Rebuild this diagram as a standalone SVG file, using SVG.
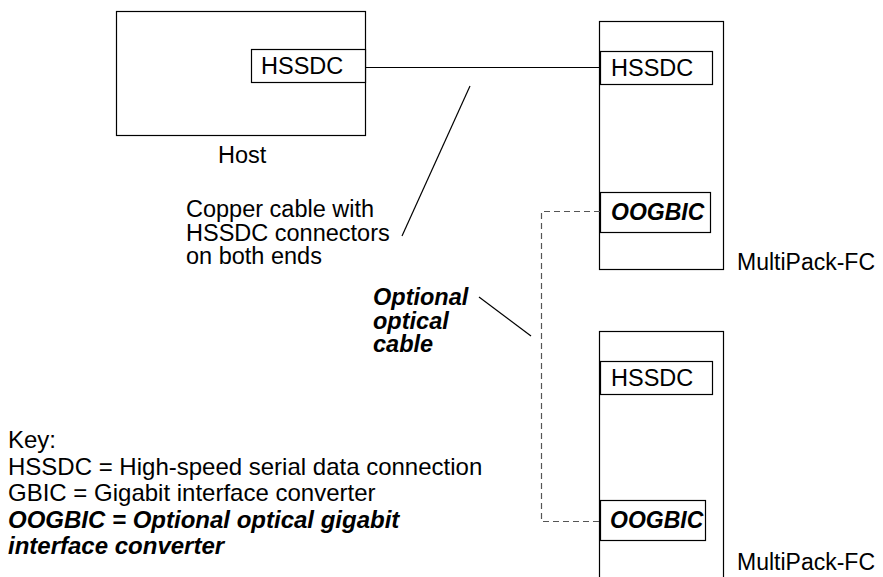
<svg xmlns="http://www.w3.org/2000/svg" width="883" height="577" viewBox="0 0 883 577">
<style>
.box{fill:#fff;stroke:#000;stroke-width:1.2}
.t{font-family:"Liberation Sans",Arial,sans-serif;font-size:23.5px;fill:#000}
.bi{font-weight:bold;font-style:italic}
.ln{stroke:#000;stroke-width:1.2;fill:none}
.dash{stroke:#555;stroke-width:1.2;fill:none;stroke-dasharray:6,4}
.mp{font-size:23px}
.og{font-size:23px}
.k{font-size:24px}
</style>
<rect width="883" height="577" fill="#fff"/>
<g id="host">
<rect class="box" x="116.5" y="11.5" width="249" height="124"/>
<text class="t" x="218" y="163">Host</text>
</g>
<g id="host-hssdc">
<rect class="box" x="251.5" y="49.5" width="114" height="33"/>
<text class="t" x="261" y="74">HSSDC</text>
</g>
<g id="multipack1">
<rect class="box" x="599.5" y="21.5" width="124" height="248"/>
<text class="t mp" x="737" y="270">MultiPack-FC</text>
</g>
<g id="mp1-hssdc">
<rect class="box" x="600.5" y="51.5" width="112" height="33"/>
<text class="t" x="611" y="76">HSSDC</text>
</g>
<g id="mp1-oogbic">
<rect class="box" x="600.5" y="192.5" width="110" height="40"/>
<text class="t bi og" x="611" y="220">OOGBIC</text>
</g>
<g id="multipack2">
<rect class="box" x="599.5" y="331.5" width="124" height="260"/>
<text class="t mp" x="737" y="570">MultiPack-FC</text>
</g>
<g id="mp2-hssdc">
<rect class="box" x="600.5" y="361.5" width="112" height="33"/>
<text class="t" x="611" y="386">HSSDC</text>
</g>
<g id="mp2-oogbic">
<rect class="box" x="600.5" y="500.5" width="105" height="40"/>
<text class="t bi og" x="610" y="528">OOGBIC</text>
</g>
<g id="connectors">
<line class="ln" x1="366" y1="67.5" x2="600" y2="67.5"/>
<line class="ln" x1="470" y1="86" x2="402" y2="236"/>
<line class="ln" x1="479" y1="297" x2="531" y2="336"/>
<polyline class="dash" points="600,211.5 541.5,211.5 541.5,521.5 600,521.5"/>
</g>
<g id="copper-label">
<text class="t" x="186" y="217"><tspan x="186" y="217">Copper cable with</tspan><tspan x="186" y="241">HSSDC connectors</tspan><tspan x="186" y="264">on both ends</tspan></text>
</g>
<g id="optical-label">
<text class="t bi" x="373" y="305"><tspan x="373" y="305">Optional</tspan><tspan x="373" y="329">optical</tspan><tspan x="373" y="352">cable</tspan></text>
</g>
<g id="key">
<text class="t k" x="8" y="448"><tspan x="8" y="448">Key:</tspan><tspan x="8" y="475">HSSDC = High-speed serial data connection</tspan><tspan x="8" y="501">GBIC = Gigabit interface converter</tspan><tspan class="bi" x="8" y="528">OOGBIC = Optional optical gigabit</tspan><tspan class="bi" x="8" y="554">interface converter</tspan></text>
</g>
</svg>
